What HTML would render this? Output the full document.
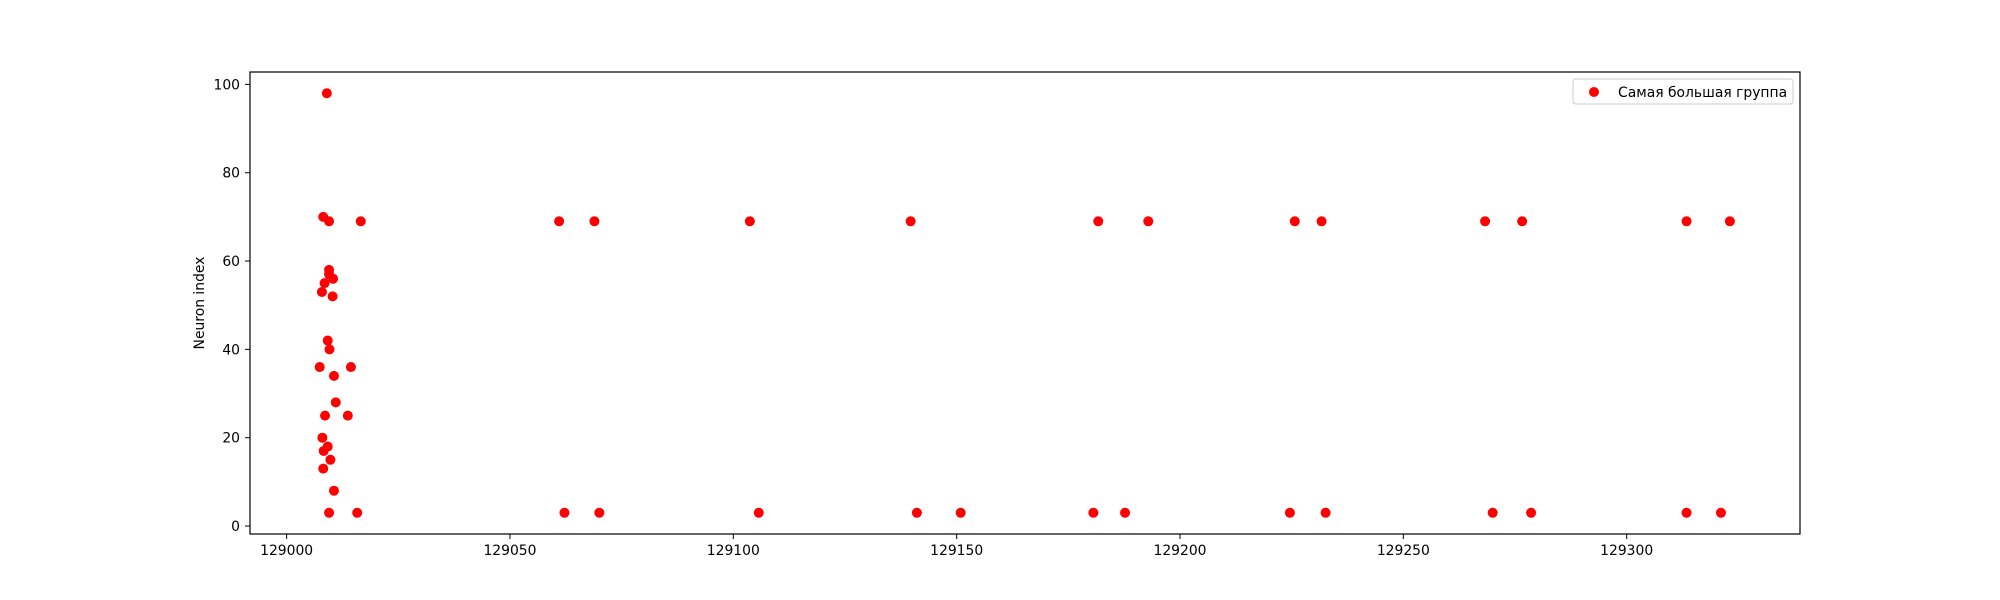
<!DOCTYPE html>
<html><head><meta charset="utf-8"><style>body{margin:0;background:#fff}svg{display:block}text{font-family:"DejaVu Sans","Liberation Sans",sans-serif;font-size:13.9px;fill:#000}</style></head>
<body>
<svg id="chart" width="2000" height="600">
<rect x="250" y="72" width="1550" height="462" fill="#fff" stroke="#000" stroke-width="1.2"/>
<g id="marks"></g>
<g id="axes"></g>
<text x="204" y="303" text-anchor="middle" transform="rotate(-90 204 303)">Neuron index</text>
<g>
<rect x="1573" y="79" width="220" height="25" rx="3" fill="#fff" stroke="#ccc"/>
<circle cx="1594" cy="92" r="5" fill="#ff0000"/>
<text x="1618" y="97">Самая большая группа</text>
</g>
</svg>
<script>
const xs=[129009.0,129008.2,129009.5,129016.6,129009.5,129009.5,129010.4,129008.5,129007.9,129010.3,129009.2,129009.6,129007.4,129014.4,129010.6,129011.0,129008.6,129013.7,129008.0,129009.2,129008.3,129009.8,129008.2,129010.6,129009.5,129015.8,129061.0,129062.2,
129068.9,129103.7,129139.7,129181.7,129192.9,129225.7,129231.7,129268.3,129276.6,129313.4,129323.1,
129070.0,129105.7,129141.1,129150.9,129180.6,129187.7,129224.6,129232.6,129270.0,129278.6,129313.4,129321.1];
const ys=[98,70,69,69,58,57,56,55,53,52,42,40,36,36,34,28,25,25,20,18,17,15,13,8,3,3,69,3,
69,69,69,69,69,69,69,69,69,69,69,
3,3,3,3,3,3,3,3,3,3,3,3];
const xTicks=[129000,129050,129100,129150,129200,129250,129300];
const yTicks=[0,20,40,60,80,100];
const X0=128991.8,X1=129338.8,Y0=-1.8,Y1=102.8;
function sx(v){return 250+(v-X0)/(X1-X0)*1550;}
function sy(v){return 534-(v-Y0)/(Y1-Y0)*462;}
const NS="http://www.w3.org/2000/svg";
const marks=document.getElementById('marks'),axes=document.getElementById('axes');
xs.forEach((x,i)=>{const c=document.createElementNS(NS,'circle');
c.setAttribute('cx',sx(x));c.setAttribute('cy',sy(ys[i]));c.setAttribute('r',5);c.setAttribute('fill','#ff0000');


marks.appendChild(c);});
xTicks.forEach(t=>{const x=sx(t);
const l=document.createElementNS(NS,'line');l.setAttribute('x1',x);l.setAttribute('x2',x);l.setAttribute('y1',534);l.setAttribute('y2',539);l.setAttribute('stroke','#000');


axes.appendChild(l);
const tx=document.createElementNS(NS,'text');tx.setAttribute('x',x);tx.setAttribute('y',555);tx.setAttribute('text-anchor','middle');tx.textContent=t;


axes.appendChild(tx);});
yTicks.forEach(t=>{const y=sy(t);
const l=document.createElementNS(NS,'line');l.setAttribute('x1',245);l.setAttribute('x2',250);l.setAttribute('y1',y);l.setAttribute('y2',y);l.setAttribute('stroke','#000');


axes.appendChild(l);
const tx=document.createElementNS(NS,'text');tx.setAttribute('x',240);tx.setAttribute('y',y+5);tx.setAttribute('text-anchor','end');tx.textContent=t;


axes.appendChild(tx);});
</script>
</body></html>
